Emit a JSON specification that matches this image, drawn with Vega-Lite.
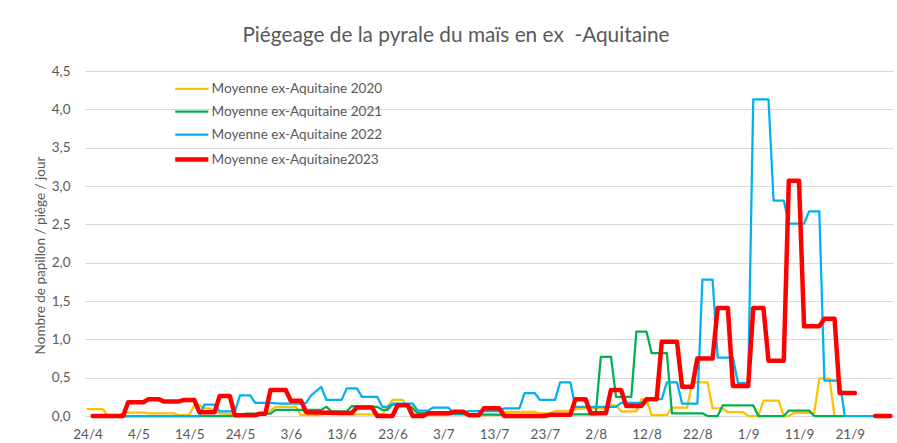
{
  "$schema": "https://vega.github.io/schema/vega-lite/v6.json",
  "width": 808,
  "height": 345,
  "autosize": {"type": "none"},
  "padding": {"left": 85, "top": 71, "right": 4, "bottom": 27},
  "background": "white",
  "config": {
    "font": "Lato",
    "view": {"stroke": null}
  },
  "title": {
    "text": "Piégeage de la pyrale du maïs en ex\u00a0 -Aquitaine",
    "frame": "group",
    "anchor": "middle",
    "dx": -33,
    "offset": 1,
    "baseline": "alphabetic",
    "fontSize": 20.8,
    "fontWeight": "normal",
    "color": "#595959",
    "font": "Lato"
  },
  "data": {
    "values": [
      {"serie": "Moyenne ex-Aquitaine 2020", "d": 0, "v": 0.09},
      {"serie": "Moyenne ex-Aquitaine 2020", "d": 3, "v": 0.09},
      {"serie": "Moyenne ex-Aquitaine 2020", "d": 4, "v": 0},
      {"serie": "Moyenne ex-Aquitaine 2020", "d": 6, "v": 0},
      {"serie": "Moyenne ex-Aquitaine 2020", "d": 7, "v": 0.045},
      {"serie": "Moyenne ex-Aquitaine 2020", "d": 11, "v": 0.045},
      {"serie": "Moyenne ex-Aquitaine 2020", "d": 12, "v": 0.035},
      {"serie": "Moyenne ex-Aquitaine 2020", "d": 17, "v": 0.035},
      {"serie": "Moyenne ex-Aquitaine 2020", "d": 18, "v": 0.01},
      {"serie": "Moyenne ex-Aquitaine 2020", "d": 20, "v": 0.01},
      {"serie": "Moyenne ex-Aquitaine 2020", "d": 21, "v": 0.14},
      {"serie": "Moyenne ex-Aquitaine 2020", "d": 22, "v": 0.14},
      {"serie": "Moyenne ex-Aquitaine 2020", "d": 23, "v": 0.1},
      {"serie": "Moyenne ex-Aquitaine 2020", "d": 24, "v": 0.1},
      {"serie": "Moyenne ex-Aquitaine 2020", "d": 26, "v": 0.035},
      {"serie": "Moyenne ex-Aquitaine 2020", "d": 29, "v": 0.02},
      {"serie": "Moyenne ex-Aquitaine 2020", "d": 35, "v": 0.02},
      {"serie": "Moyenne ex-Aquitaine 2020", "d": 37, "v": 0.12},
      {"serie": "Moyenne ex-Aquitaine 2020", "d": 41, "v": 0.12},
      {"serie": "Moyenne ex-Aquitaine 2020", "d": 42, "v": 0.01},
      {"serie": "Moyenne ex-Aquitaine 2020", "d": 45, "v": 0.01},
      {"serie": "Moyenne ex-Aquitaine 2020", "d": 46, "v": 0.02},
      {"serie": "Moyenne ex-Aquitaine 2020", "d": 58, "v": 0.02},
      {"serie": "Moyenne ex-Aquitaine 2020", "d": 60, "v": 0.21},
      {"serie": "Moyenne ex-Aquitaine 2020", "d": 62, "v": 0.21},
      {"serie": "Moyenne ex-Aquitaine 2020", "d": 63, "v": 0.12},
      {"serie": "Moyenne ex-Aquitaine 2020", "d": 64, "v": 0.12},
      {"serie": "Moyenne ex-Aquitaine 2020", "d": 65, "v": 0.01},
      {"serie": "Moyenne ex-Aquitaine 2020", "d": 70, "v": 0.01},
      {"serie": "Moyenne ex-Aquitaine 2020", "d": 71, "v": 0.02},
      {"serie": "Moyenne ex-Aquitaine 2020", "d": 75, "v": 0.02},
      {"serie": "Moyenne ex-Aquitaine 2020", "d": 77, "v": 0.01},
      {"serie": "Moyenne ex-Aquitaine 2020", "d": 81, "v": 0.01},
      {"serie": "Moyenne ex-Aquitaine 2020", "d": 82, "v": 0.055},
      {"serie": "Moyenne ex-Aquitaine 2020", "d": 88, "v": 0.055},
      {"serie": "Moyenne ex-Aquitaine 2020", "d": 89, "v": 0.035},
      {"serie": "Moyenne ex-Aquitaine 2020", "d": 91, "v": 0.035},
      {"serie": "Moyenne ex-Aquitaine 2020", "d": 92, "v": 0.065},
      {"serie": "Moyenne ex-Aquitaine 2020", "d": 95, "v": 0.07},
      {"serie": "Moyenne ex-Aquitaine 2020", "d": 96, "v": 0.09},
      {"serie": "Moyenne ex-Aquitaine 2020", "d": 98, "v": 0.1},
      {"serie": "Moyenne ex-Aquitaine 2020", "d": 102, "v": 0.1},
      {"serie": "Moyenne ex-Aquitaine 2020", "d": 103, "v": 0.14},
      {"serie": "Moyenne ex-Aquitaine 2020", "d": 104, "v": 0.14},
      {"serie": "Moyenne ex-Aquitaine 2020", "d": 105, "v": 0.06},
      {"serie": "Moyenne ex-Aquitaine 2020", "d": 108, "v": 0.06},
      {"serie": "Moyenne ex-Aquitaine 2020", "d": 109, "v": 0.22},
      {"serie": "Moyenne ex-Aquitaine 2020", "d": 110, "v": 0.22},
      {"serie": "Moyenne ex-Aquitaine 2020", "d": 111, "v": 0.01},
      {"serie": "Moyenne ex-Aquitaine 2020", "d": 114, "v": 0.01},
      {"serie": "Moyenne ex-Aquitaine 2020", "d": 115, "v": 0.11},
      {"serie": "Moyenne ex-Aquitaine 2020", "d": 118, "v": 0.11},
      {"serie": "Moyenne ex-Aquitaine 2020", "d": 119, "v": 0.44},
      {"serie": "Moyenne ex-Aquitaine 2020", "d": 122, "v": 0.44},
      {"serie": "Moyenne ex-Aquitaine 2020", "d": 123, "v": 0.1},
      {"serie": "Moyenne ex-Aquitaine 2020", "d": 125, "v": 0.1},
      {"serie": "Moyenne ex-Aquitaine 2020", "d": 126, "v": 0.05},
      {"serie": "Moyenne ex-Aquitaine 2020", "d": 129, "v": 0.05},
      {"serie": "Moyenne ex-Aquitaine 2020", "d": 130, "v": 0},
      {"serie": "Moyenne ex-Aquitaine 2020", "d": 132, "v": 0},
      {"serie": "Moyenne ex-Aquitaine 2020", "d": 133, "v": 0.2},
      {"serie": "Moyenne ex-Aquitaine 2020", "d": 136, "v": 0.2},
      {"serie": "Moyenne ex-Aquitaine 2020", "d": 137, "v": 0},
      {"serie": "Moyenne ex-Aquitaine 2020", "d": 138, "v": 0},
      {"serie": "Moyenne ex-Aquitaine 2020", "d": 139, "v": 0.04},
      {"serie": "Moyenne ex-Aquitaine 2020", "d": 143, "v": 0.04},
      {"serie": "Moyenne ex-Aquitaine 2020", "d": 144, "v": 0.49},
      {"serie": "Moyenne ex-Aquitaine 2020", "d": 146, "v": 0.49},
      {"serie": "Moyenne ex-Aquitaine 2020", "d": 147, "v": 0},

      {"serie": "Moyenne ex-Aquitaine 2021", "d": 1, "v": 0},
      {"serie": "Moyenne ex-Aquitaine 2021", "d": 30, "v": 0},
      {"serie": "Moyenne ex-Aquitaine 2021", "d": 31, "v": 0.03},
      {"serie": "Moyenne ex-Aquitaine 2021", "d": 36, "v": 0.03},
      {"serie": "Moyenne ex-Aquitaine 2021", "d": 37, "v": 0.08},
      {"serie": "Moyenne ex-Aquitaine 2021", "d": 46, "v": 0.08},
      {"serie": "Moyenne ex-Aquitaine 2021", "d": 47, "v": 0.12},
      {"serie": "Moyenne ex-Aquitaine 2021", "d": 48, "v": 0.06},
      {"serie": "Moyenne ex-Aquitaine 2021", "d": 51, "v": 0.06},
      {"serie": "Moyenne ex-Aquitaine 2021", "d": 52, "v": 0.13},
      {"serie": "Moyenne ex-Aquitaine 2021", "d": 57, "v": 0.12},
      {"serie": "Moyenne ex-Aquitaine 2021", "d": 58, "v": 0.08},
      {"serie": "Moyenne ex-Aquitaine 2021", "d": 59, "v": 0.08},
      {"serie": "Moyenne ex-Aquitaine 2021", "d": 60, "v": 0.15},
      {"serie": "Moyenne ex-Aquitaine 2021", "d": 63, "v": 0.15},
      {"serie": "Moyenne ex-Aquitaine 2021", "d": 65, "v": 0.04},
      {"serie": "Moyenne ex-Aquitaine 2021", "d": 67, "v": 0.03},
      {"serie": "Moyenne ex-Aquitaine 2021", "d": 77, "v": 0.02},
      {"serie": "Moyenne ex-Aquitaine 2021", "d": 89, "v": 0.01},
      {"serie": "Moyenne ex-Aquitaine 2021", "d": 93, "v": 0.02},
      {"serie": "Moyenne ex-Aquitaine 2021", "d": 100, "v": 0.02},
      {"serie": "Moyenne ex-Aquitaine 2021", "d": 101, "v": 0.77},
      {"serie": "Moyenne ex-Aquitaine 2021", "d": 103, "v": 0.77},
      {"serie": "Moyenne ex-Aquitaine 2021", "d": 104, "v": 0.25},
      {"serie": "Moyenne ex-Aquitaine 2021", "d": 107, "v": 0.25},
      {"serie": "Moyenne ex-Aquitaine 2021", "d": 108, "v": 1.1},
      {"serie": "Moyenne ex-Aquitaine 2021", "d": 110, "v": 1.1},
      {"serie": "Moyenne ex-Aquitaine 2021", "d": 111, "v": 0.82},
      {"serie": "Moyenne ex-Aquitaine 2021", "d": 114, "v": 0.82},
      {"serie": "Moyenne ex-Aquitaine 2021", "d": 115, "v": 0.035},
      {"serie": "Moyenne ex-Aquitaine 2021", "d": 121, "v": 0.035},
      {"serie": "Moyenne ex-Aquitaine 2021", "d": 122, "v": 0},
      {"serie": "Moyenne ex-Aquitaine 2021", "d": 124, "v": 0},
      {"serie": "Moyenne ex-Aquitaine 2021", "d": 125, "v": 0.14},
      {"serie": "Moyenne ex-Aquitaine 2021", "d": 131, "v": 0.14},
      {"serie": "Moyenne ex-Aquitaine 2021", "d": 132, "v": 0},
      {"serie": "Moyenne ex-Aquitaine 2021", "d": 137, "v": 0},
      {"serie": "Moyenne ex-Aquitaine 2021", "d": 138, "v": 0.07},
      {"serie": "Moyenne ex-Aquitaine 2021", "d": 142, "v": 0.07},
      {"serie": "Moyenne ex-Aquitaine 2021", "d": 143, "v": 0},
      {"serie": "Moyenne ex-Aquitaine 2021", "d": 149, "v": 0},

      {"serie": "Moyenne ex-Aquitaine 2022", "d": 1, "v": 0},
      {"serie": "Moyenne ex-Aquitaine 2022", "d": 22, "v": 0},
      {"serie": "Moyenne ex-Aquitaine 2022", "d": 23, "v": 0.15},
      {"serie": "Moyenne ex-Aquitaine 2022", "d": 25, "v": 0.15},
      {"serie": "Moyenne ex-Aquitaine 2022", "d": 26, "v": 0.06},
      {"serie": "Moyenne ex-Aquitaine 2022", "d": 29, "v": 0.06},
      {"serie": "Moyenne ex-Aquitaine 2022", "d": 30, "v": 0.27},
      {"serie": "Moyenne ex-Aquitaine 2022", "d": 32, "v": 0.27},
      {"serie": "Moyenne ex-Aquitaine 2022", "d": 33, "v": 0.17},
      {"serie": "Moyenne ex-Aquitaine 2022", "d": 36, "v": 0.17},
      {"serie": "Moyenne ex-Aquitaine 2022", "d": 38, "v": 0.16},
      {"serie": "Moyenne ex-Aquitaine 2022", "d": 42, "v": 0.16},
      {"serie": "Moyenne ex-Aquitaine 2022", "d": 43, "v": 0.17},
      {"serie": "Moyenne ex-Aquitaine 2022", "d": 44, "v": 0.27},
      {"serie": "Moyenne ex-Aquitaine 2022", "d": 46, "v": 0.38},
      {"serie": "Moyenne ex-Aquitaine 2022", "d": 47, "v": 0.21},
      {"serie": "Moyenne ex-Aquitaine 2022", "d": 50, "v": 0.21},
      {"serie": "Moyenne ex-Aquitaine 2022", "d": 51, "v": 0.36},
      {"serie": "Moyenne ex-Aquitaine 2022", "d": 53, "v": 0.36},
      {"serie": "Moyenne ex-Aquitaine 2022", "d": 54, "v": 0.25},
      {"serie": "Moyenne ex-Aquitaine 2022", "d": 57, "v": 0.25},
      {"serie": "Moyenne ex-Aquitaine 2022", "d": 58, "v": 0.12},
      {"serie": "Moyenne ex-Aquitaine 2022", "d": 59, "v": 0.12},
      {"serie": "Moyenne ex-Aquitaine 2022", "d": 60, "v": 0.16},
      {"serie": "Moyenne ex-Aquitaine 2022", "d": 64, "v": 0.16},
      {"serie": "Moyenne ex-Aquitaine 2022", "d": 65, "v": 0.07},
      {"serie": "Moyenne ex-Aquitaine 2022", "d": 67, "v": 0.07},
      {"serie": "Moyenne ex-Aquitaine 2022", "d": 68, "v": 0.11},
      {"serie": "Moyenne ex-Aquitaine 2022", "d": 71, "v": 0.11},
      {"serie": "Moyenne ex-Aquitaine 2022", "d": 72, "v": 0.035},
      {"serie": "Moyenne ex-Aquitaine 2022", "d": 74, "v": 0.035},
      {"serie": "Moyenne ex-Aquitaine 2022", "d": 75, "v": 0.065},
      {"serie": "Moyenne ex-Aquitaine 2022", "d": 81, "v": 0.065},
      {"serie": "Moyenne ex-Aquitaine 2022", "d": 82, "v": 0.1},
      {"serie": "Moyenne ex-Aquitaine 2022", "d": 85, "v": 0.1},
      {"serie": "Moyenne ex-Aquitaine 2022", "d": 86, "v": 0.3},
      {"serie": "Moyenne ex-Aquitaine 2022", "d": 88, "v": 0.3},
      {"serie": "Moyenne ex-Aquitaine 2022", "d": 89, "v": 0.21},
      {"serie": "Moyenne ex-Aquitaine 2022", "d": 92, "v": 0.21},
      {"serie": "Moyenne ex-Aquitaine 2022", "d": 93, "v": 0.44},
      {"serie": "Moyenne ex-Aquitaine 2022", "d": 95, "v": 0.44},
      {"serie": "Moyenne ex-Aquitaine 2022", "d": 96, "v": 0.12},
      {"serie": "Moyenne ex-Aquitaine 2022", "d": 104, "v": 0.12},
      {"serie": "Moyenne ex-Aquitaine 2022", "d": 105, "v": 0.17},
      {"serie": "Moyenne ex-Aquitaine 2022", "d": 109, "v": 0.17},
      {"serie": "Moyenne ex-Aquitaine 2022", "d": 110, "v": 0.22},
      {"serie": "Moyenne ex-Aquitaine 2022", "d": 113, "v": 0.22},
      {"serie": "Moyenne ex-Aquitaine 2022", "d": 114, "v": 0.44},
      {"serie": "Moyenne ex-Aquitaine 2022", "d": 116, "v": 0.44},
      {"serie": "Moyenne ex-Aquitaine 2022", "d": 117, "v": 0.16},
      {"serie": "Moyenne ex-Aquitaine 2022", "d": 120, "v": 0.16},
      {"serie": "Moyenne ex-Aquitaine 2022", "d": 121, "v": 1.78},
      {"serie": "Moyenne ex-Aquitaine 2022", "d": 123, "v": 1.78},
      {"serie": "Moyenne ex-Aquitaine 2022", "d": 124, "v": 0.76},
      {"serie": "Moyenne ex-Aquitaine 2022", "d": 127, "v": 0.76},
      {"serie": "Moyenne ex-Aquitaine 2022", "d": 128, "v": 0.43},
      {"serie": "Moyenne ex-Aquitaine 2022", "d": 130, "v": 0.43},
      {"serie": "Moyenne ex-Aquitaine 2022", "d": 131, "v": 4.13},
      {"serie": "Moyenne ex-Aquitaine 2022", "d": 134, "v": 4.13},
      {"serie": "Moyenne ex-Aquitaine 2022", "d": 135, "v": 2.81},
      {"serie": "Moyenne ex-Aquitaine 2022", "d": 137, "v": 2.81},
      {"serie": "Moyenne ex-Aquitaine 2022", "d": 138, "v": 2.51},
      {"serie": "Moyenne ex-Aquitaine 2022", "d": 141, "v": 2.51},
      {"serie": "Moyenne ex-Aquitaine 2022", "d": 142, "v": 2.67},
      {"serie": "Moyenne ex-Aquitaine 2022", "d": 144, "v": 2.67},
      {"serie": "Moyenne ex-Aquitaine 2022", "d": 145, "v": 0.46},
      {"serie": "Moyenne ex-Aquitaine 2022", "d": 148, "v": 0.46},
      {"serie": "Moyenne ex-Aquitaine 2022", "d": 149, "v": 0},
      {"serie": "Moyenne ex-Aquitaine 2022", "d": 158, "v": 0},

      {"serie": "Moyenne ex-Aquitaine2023", "d": 1, "v": 0},
      {"serie": "Moyenne ex-Aquitaine2023", "d": 7, "v": 0},
      {"serie": "Moyenne ex-Aquitaine2023", "d": 8, "v": 0.18},
      {"serie": "Moyenne ex-Aquitaine2023", "d": 11, "v": 0.18},
      {"serie": "Moyenne ex-Aquitaine2023", "d": 12, "v": 0.22},
      {"serie": "Moyenne ex-Aquitaine2023", "d": 14, "v": 0.22},
      {"serie": "Moyenne ex-Aquitaine2023", "d": 15, "v": 0.19},
      {"serie": "Moyenne ex-Aquitaine2023", "d": 18, "v": 0.19},
      {"serie": "Moyenne ex-Aquitaine2023", "d": 19, "v": 0.21},
      {"serie": "Moyenne ex-Aquitaine2023", "d": 21, "v": 0.21},
      {"serie": "Moyenne ex-Aquitaine2023", "d": 22, "v": 0.05},
      {"serie": "Moyenne ex-Aquitaine2023", "d": 25, "v": 0.05},
      {"serie": "Moyenne ex-Aquitaine2023", "d": 26, "v": 0.26},
      {"serie": "Moyenne ex-Aquitaine2023", "d": 28, "v": 0.26},
      {"serie": "Moyenne ex-Aquitaine2023", "d": 29, "v": 0.01},
      {"serie": "Moyenne ex-Aquitaine2023", "d": 33, "v": 0.01},
      {"serie": "Moyenne ex-Aquitaine2023", "d": 34, "v": 0.03},
      {"serie": "Moyenne ex-Aquitaine2023", "d": 35, "v": 0.03},
      {"serie": "Moyenne ex-Aquitaine2023", "d": 36, "v": 0.34},
      {"serie": "Moyenne ex-Aquitaine2023", "d": 39, "v": 0.34},
      {"serie": "Moyenne ex-Aquitaine2023", "d": 40, "v": 0.2},
      {"serie": "Moyenne ex-Aquitaine2023", "d": 42, "v": 0.2},
      {"serie": "Moyenne ex-Aquitaine2023", "d": 43, "v": 0.05},
      {"serie": "Moyenne ex-Aquitaine2023", "d": 50, "v": 0.04},
      {"serie": "Moyenne ex-Aquitaine2023", "d": 52, "v": 0.04},
      {"serie": "Moyenne ex-Aquitaine2023", "d": 53, "v": 0.11},
      {"serie": "Moyenne ex-Aquitaine2023", "d": 56, "v": 0.11},
      {"serie": "Moyenne ex-Aquitaine2023", "d": 57, "v": 0},
      {"serie": "Moyenne ex-Aquitaine2023", "d": 60, "v": 0},
      {"serie": "Moyenne ex-Aquitaine2023", "d": 61, "v": 0.14},
      {"serie": "Moyenne ex-Aquitaine2023", "d": 63, "v": 0.14},
      {"serie": "Moyenne ex-Aquitaine2023", "d": 64, "v": 0},
      {"serie": "Moyenne ex-Aquitaine2023", "d": 66, "v": 0},
      {"serie": "Moyenne ex-Aquitaine2023", "d": 67, "v": 0.035},
      {"serie": "Moyenne ex-Aquitaine2023", "d": 71, "v": 0.035},
      {"serie": "Moyenne ex-Aquitaine2023", "d": 72, "v": 0.055},
      {"serie": "Moyenne ex-Aquitaine2023", "d": 74, "v": 0.055},
      {"serie": "Moyenne ex-Aquitaine2023", "d": 75, "v": 0.01},
      {"serie": "Moyenne ex-Aquitaine2023", "d": 77, "v": 0.01},
      {"serie": "Moyenne ex-Aquitaine2023", "d": 78, "v": 0.1},
      {"serie": "Moyenne ex-Aquitaine2023", "d": 81, "v": 0.1},
      {"serie": "Moyenne ex-Aquitaine2023", "d": 82, "v": 0},
      {"serie": "Moyenne ex-Aquitaine2023", "d": 90, "v": 0},
      {"serie": "Moyenne ex-Aquitaine2023", "d": 91, "v": 0.015},
      {"serie": "Moyenne ex-Aquitaine2023", "d": 95, "v": 0.015},
      {"serie": "Moyenne ex-Aquitaine2023", "d": 96, "v": 0.22},
      {"serie": "Moyenne ex-Aquitaine2023", "d": 98, "v": 0.22},
      {"serie": "Moyenne ex-Aquitaine2023", "d": 99, "v": 0.035},
      {"serie": "Moyenne ex-Aquitaine2023", "d": 102, "v": 0.035},
      {"serie": "Moyenne ex-Aquitaine2023", "d": 103, "v": 0.34},
      {"serie": "Moyenne ex-Aquitaine2023", "d": 105, "v": 0.34},
      {"serie": "Moyenne ex-Aquitaine2023", "d": 106, "v": 0.13},
      {"serie": "Moyenne ex-Aquitaine2023", "d": 109, "v": 0.13},
      {"serie": "Moyenne ex-Aquitaine2023", "d": 110, "v": 0.22},
      {"serie": "Moyenne ex-Aquitaine2023", "d": 112, "v": 0.22},
      {"serie": "Moyenne ex-Aquitaine2023", "d": 113, "v": 0.97},
      {"serie": "Moyenne ex-Aquitaine2023", "d": 116, "v": 0.97},
      {"serie": "Moyenne ex-Aquitaine2023", "d": 117, "v": 0.38},
      {"serie": "Moyenne ex-Aquitaine2023", "d": 119, "v": 0.38},
      {"serie": "Moyenne ex-Aquitaine2023", "d": 120, "v": 0.75},
      {"serie": "Moyenne ex-Aquitaine2023", "d": 123, "v": 0.75},
      {"serie": "Moyenne ex-Aquitaine2023", "d": 124, "v": 1.41},
      {"serie": "Moyenne ex-Aquitaine2023", "d": 126, "v": 1.41},
      {"serie": "Moyenne ex-Aquitaine2023", "d": 127, "v": 0.39},
      {"serie": "Moyenne ex-Aquitaine2023", "d": 130, "v": 0.39},
      {"serie": "Moyenne ex-Aquitaine2023", "d": 131, "v": 1.41},
      {"serie": "Moyenne ex-Aquitaine2023", "d": 133, "v": 1.41},
      {"serie": "Moyenne ex-Aquitaine2023", "d": 134, "v": 0.72},
      {"serie": "Moyenne ex-Aquitaine2023", "d": 137, "v": 0.72},
      {"serie": "Moyenne ex-Aquitaine2023", "d": 138, "v": 3.07},
      {"serie": "Moyenne ex-Aquitaine2023", "d": 140, "v": 3.07},
      {"serie": "Moyenne ex-Aquitaine2023", "d": 141, "v": 1.17},
      {"serie": "Moyenne ex-Aquitaine2023", "d": 144, "v": 1.17},
      {"serie": "Moyenne ex-Aquitaine2023", "d": 145, "v": 1.27},
      {"serie": "Moyenne ex-Aquitaine2023", "d": 147, "v": 1.27},
      {"serie": "Moyenne ex-Aquitaine2023", "d": 148, "v": 0.3},
      {"serie": "Moyenne ex-Aquitaine2023", "d": 151, "v": 0.3},
      {"serie": "Moyenne ex-Aquitaine2023", "d": 153, "v": null},
      {"serie": "Moyenne ex-Aquitaine2023", "d": 155, "v": 0},
      {"serie": "Moyenne ex-Aquitaine2023", "d": 158, "v": 0}
    ]
  },
  "mark": {
    "type": "line",
    "strokeJoin": "round",
    "strokeCap": "round",
    "invalid": "break-paths-show-domains"
  },
  "encoding": {
    "x": {
      "field": "d",
      "type": "quantitative",
      "scale": {"domain": [-0.5, 158.5], "nice": false, "zero": false},
      "axis": {
        "title": null,
        "values": [0, 10, 20, 30, 40, 50, 60, 70, 80, 90, 100, 110, 120, 130, 140, 150],
        "labelExpr": "timeFormat(datetime(2023, 3, 24 + datum.value), '%-d/%-m')",
        "labelFontSize": 13.5,
        "labelColor": "#595959",
        "labelPadding": 11,
        "ticks": false,
        "domain": false,
        "grid": false
      }
    },
    "y": {
      "field": "v",
      "type": "quantitative",
      "scale": {"domain": [0, 4.5], "nice": false},
      "axis": {
        "title": "Nombre de papillon / piège / jour",
        "titleFontSize": 13.5,
        "titleFontWeight": "normal",
        "titleColor": "#595959",
        "titleX": -45,
        "titleY": 184,
        "titleAngle": -90,
        "titleBaseline": "middle",
        "titleAlign": "center",
        "values": [0, 0.5, 1, 1.5, 2, 2.5, 3, 3.5, 4, 4.5],
        "labelExpr": "replace(format(datum.value, '.1f'), '.', ',')",
        "labelFontSize": 13.5,
        "labelColor": "#595959",
        "labelPadding": 15,
        "ticks": false,
        "domain": false,
        "grid": true,
        "gridColor": "#d9d9d9",
        "gridWidth": 1
      }
    },
    "color": {
      "field": "serie",
      "type": "nominal",
      "scale": {
        "domain": ["Moyenne ex-Aquitaine 2020", "Moyenne ex-Aquitaine 2021", "Moyenne ex-Aquitaine 2022", "Moyenne ex-Aquitaine2023"],
        "range": ["#FFC000", "#00B050", "#00B0F0", "#FF0000"]
      },
      "legend": {
        "title": null,
        "orient": "none",
        "legendX": 100,
        "legendY": 11,
        "padding": 0,
        "symbolType": "stroke",
        "symbolSize": 1100,
        "symbolStrokeWidth": 2.25,
        "labelFontSize": 13.6,
        "labelLimit": 400,
        "labelColor": "#595959",
        "labelOffset": 13,
        "rowPadding": 7.9,
        "encode": {
          "symbols": {
            "update": {
              "strokeWidth": {"signal": "datum.value === 'Moyenne ex-Aquitaine2023' ? 4.5 : 2.25"}
            }
          }
        }
      }
    },
    "strokeWidth": {
      "condition": {"test": "datum.serie === 'Moyenne ex-Aquitaine2023'", "value": 4.5},
      "value": 2.25
    }
  }
}
